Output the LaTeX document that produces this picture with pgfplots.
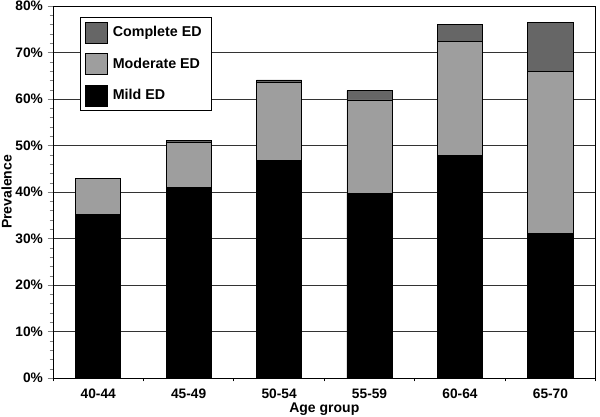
\documentclass[border=0pt]{standalone}
\usepackage{pgfplots}
\pgfplotsset{compat=1.18}
\usepackage{fontspec}
\setmainfont{Liberation Sans}
\definecolor{complete}{gray}{0.40}
\definecolor{moderate}{gray}{0.62}
\definecolor{mild}{gray}{0.0}
\begin{document}
\begin{tikzpicture}
\begin{axis}[
    scale only axis,
    width=407pt, height=279pt,
    ybar stacked, bar width=0.5,
    xmin=-0.5, xmax=5.5,
    ymin=0, ymax=80,
    xtick={0,1,2,3,4,5},
    xticklabels={40-44,45-49,50-54,55-59,60-64,65-70},
    minor xtick={-0.5,0.5,1.5,2.5,3.5,4.5,5.5},
    major x tick style={draw=none},
    minor x tick style={black, line width=0.6pt},
    ytick={0,10,...,80},
    minor y tick num=4,
    yticklabel={\pgfmathprintnumber{\tick}\%},
    /pgf/number format/assume math mode=true,
    tick align=outside,
    major tick length=4pt,
    minor tick length=2.5pt,
    xtick pos=bottom, ytick pos=left,
    ymajorgrids,
    grid style={black!80, line width=0.6pt},
    axis line style={black, line width=0.7pt},
    ticklabel style={font=\bfseries\fontsize{10.3}{12}\selectfont},
    xticklabel style={yshift=-1pt},
    xlabel={Age group}, ylabel={Prevalence},
    label style={font=\bfseries\fontsize{10.5}{12}\selectfont},
    xlabel style={yshift=4pt},
    ylabel style={yshift=-4pt},
    legend style={at={(0.05,0.97)}, anchor=north west,
        draw=black, line width=0.8pt, font=\bfseries\fontsize{10.7}{13}\selectfont,
        row sep=7pt, inner xsep=3.5pt, inner ysep=3pt,
        nodes={inner xsep=4pt}},
    legend cell align=left,
    reverse legend,
    legend image code/.code={\draw[#1, line width=0.6pt] (0pt,-8pt) rectangle (16pt,8pt);},
    every axis plot/.append style={draw=black, line width=0.6pt},
]
\addplot[fill=mild] coordinates {(0,35.2) (1,40.9) (2,46.7) (3,39.7) (4,47.8) (5,31.1)};
\addplot[fill=moderate] coordinates {(0,7.7) (1,9.7) (2,16.9) (3,20.1) (4,24.5) (5,34.9)};
\addplot[fill=complete] coordinates {(0,0) (1,0.4) (2,0.5) (3,2.0) (4,3.8) (5,10.5)};
\legend{Mild ED, Moderate ED, Complete ED}
\end{axis}
\pgfresetboundingbox
\path (current axis.south west) ++(-39.75pt,-29.25pt) rectangle ++(450pt,312.75pt);
\end{tikzpicture}
\end{document}
